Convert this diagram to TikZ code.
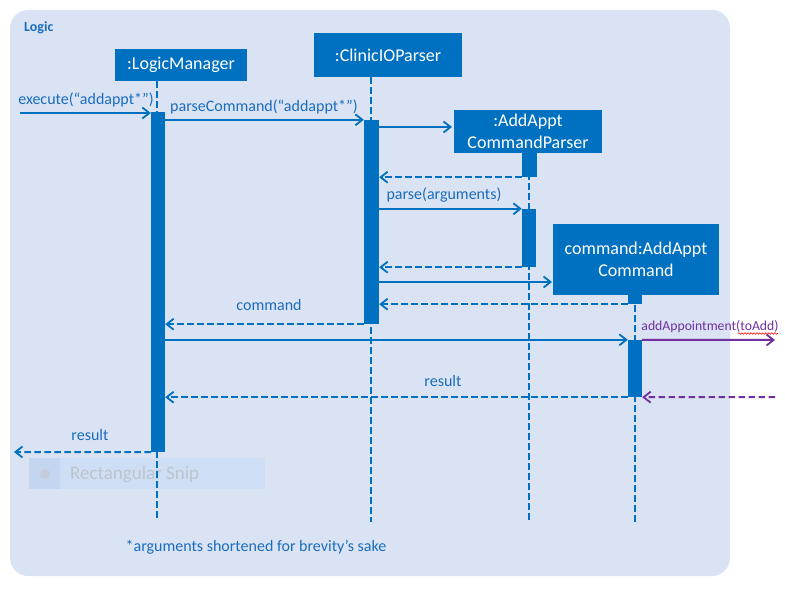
\documentclass[tikz,border=0pt]{standalone}
\usepackage{fontspec}
\setmainfont{Carlito}
\usetikzlibrary{arrows.meta,decorations.pathmorphing}
\definecolor{mblue}{HTML}{0070C0}
\definecolor{tblue}{HTML}{1A6DBE}
\definecolor{panelc}{HTML}{DAE3F3}
\definecolor{mpurple}{HTML}{7030A0}
\definecolor{snipc}{HTML}{CEDEF4}
\definecolor{snipd}{HTML}{C4D6EF}
\definecolor{snipt}{HTML}{BEC4CD}
\begin{document}
\begin{tikzpicture}[x=1pt,y=-1pt,
 obj/.style={fill=mblue,text=white,font=\fontsize{18}{22}\selectfont,align=center,inner sep=0pt},
 actbar/.style={fill=mblue,inner sep=0pt,minimum width=14pt},
 life/.style={draw=mblue,line width=2pt,dash pattern=on 6.5pt off 3.5pt},
 msg/.style={draw=mblue,line width=2pt,-{Straight Barb[length=7pt,width=11pt,line width=1.8pt]}},
 ret/.style={msg,dash pattern=on 6.5pt off 3.5pt},
 lbl/.style={text=tblue,font=\fontsize{16}{18}\selectfont,inner sep=0pt,anchor=base},
]
\useasboundingbox (0,0) rectangle (785,602);
\fill[panelc,rounded corners=18pt] (10,10) rectangle (730,576);
\node[text=tblue,font=\bfseries\fontsize{14}{15}\selectfont,anchor=base west,inner sep=0pt] (title) at (24,32) {Logic};

% snip overlay
\fill[snipc] (29,458) rectangle (265,489);
\fill[snipd] (29,458) rectangle (60,489);
\fill[snipt!70!snipc] (45,474) circle (5pt);
\node[text=snipt,font=\fontsize{19}{21}\selectfont,anchor=west,inner sep=0pt] (snip) at (70,474.5) {Rectangular Snip};

% objects
\node[obj,minimum width=132pt,minimum height=32pt] (lm) at (181,65) {:LogicManager};
\node[obj,minimum width=148pt,minimum height=44pt] (cp) at (388,55) {:ClinicIOParser};
\node[obj,minimum width=148pt,minimum height=43pt] (ap) at (528,131.5) {:AddAppt\\CommandParser};
\node[obj,minimum width=166pt,minimum height=71pt] (cmd) at (636,259.5) {command:AddAppt\\Command};

% lifeline ends
\coordinate (lmend) at (157,518);
\coordinate (cpend) at (371,522);
\coordinate (apend) at (529,522);
\coordinate (cmdend) at (635,522);
\draw[life] (lm.south -| lmend) -- (lmend);
\draw[life] (cp.south -| cpend) -- (cpend);
\draw[life] (ap.south -| apend) -- (apend);
\draw[life] (cmd.south -| cmdend) -- (cmdend);

% activations
\node[actbar,minimum height=340pt] (lmact) at (158,282) {};
\node[actbar,minimum width=15pt,minimum height=204pt] (cpact) at (371.5,222) {};
\node[actbar,minimum width=15pt,minimum height=24pt] (apact1) at (529.5,165) {};
\node[actbar,minimum height=58pt] (apact2) at (529,238) {};
\node[actbar,minimum height=9pt] (cmdact1) at (635,299.5) {};
\node[actbar,minimum height=57pt] (cmdact2) at (635,368.5) {};

% free ends
\coordinate (exsrc) at (20,113);
\coordinate (c3) at (452,127);
\coordinate (c7) at (552,282);
\coordinate (extout) at (775,340);
\coordinate (extin) at (775,397);
\coordinate (resout) at (14,452);

% messages
\draw[msg] (exsrc) -- (lmact.west |- exsrc);
\node[lbl] (l1) at (86,105) {execute(“addappt*”)};
\draw[msg] (lmact.east |- cpact.north west) -- (cpact.north west);
\node[lbl] (l2) at (264,111) {parseCommand(“addappt*”)};
\draw[msg] (cpact.east |- c3) -- (c3);
\draw[ret] (apact1.south west) -- (cpact.east |- apact1.south west);
\draw[msg] (cpact.east |- apact2.north west) -- (apact2.north west);
\node[lbl] (l3) at (444,199) {parse(arguments)};
\draw[ret] (apact2.south west) -- (cpact.east |- apact2.south west);
\draw[msg] (cpact.east |- c7) -- (c7);
\draw[ret] (cmdact1.south west) -- (cpact.east |- cmdact1.south west);
\draw[ret] (cpact.south west) -- (lmact.east |- cpact.south west);
\node[lbl] (l4) at (269,310) {command};
\draw[msg] (lmact.east |- cmdact2.north west) -- (cmdact2.north west);
\draw[msg,draw=mpurple] (cmdact2.north east) -- (extout);
\node[lbl,text=mpurple,font=\fontsize{13.7}{15}\selectfont] (l5) at (710,330) {addAppointment(toAdd)};
\draw[red,line width=0.6pt,decorate,decoration={snake,amplitude=0.8pt,segment length=3pt}] (738,333.5) -- (778,333.5);
\draw[ret,draw=mpurple] (extin) -- (cmdact2.south east);
\draw[ret] (cmdact2.south west) -- (lmact.east |- cmdact2.south west);
\node[lbl] (l6) at (443,386) {result};
\draw[ret] (lmact.south west) -- (resout);
\node[lbl] (l7) at (90,440) {result};

\node[lbl] (foot) at (256,551) {*arguments shortened for brevity’s sake};
\end{tikzpicture}
\end{document}
